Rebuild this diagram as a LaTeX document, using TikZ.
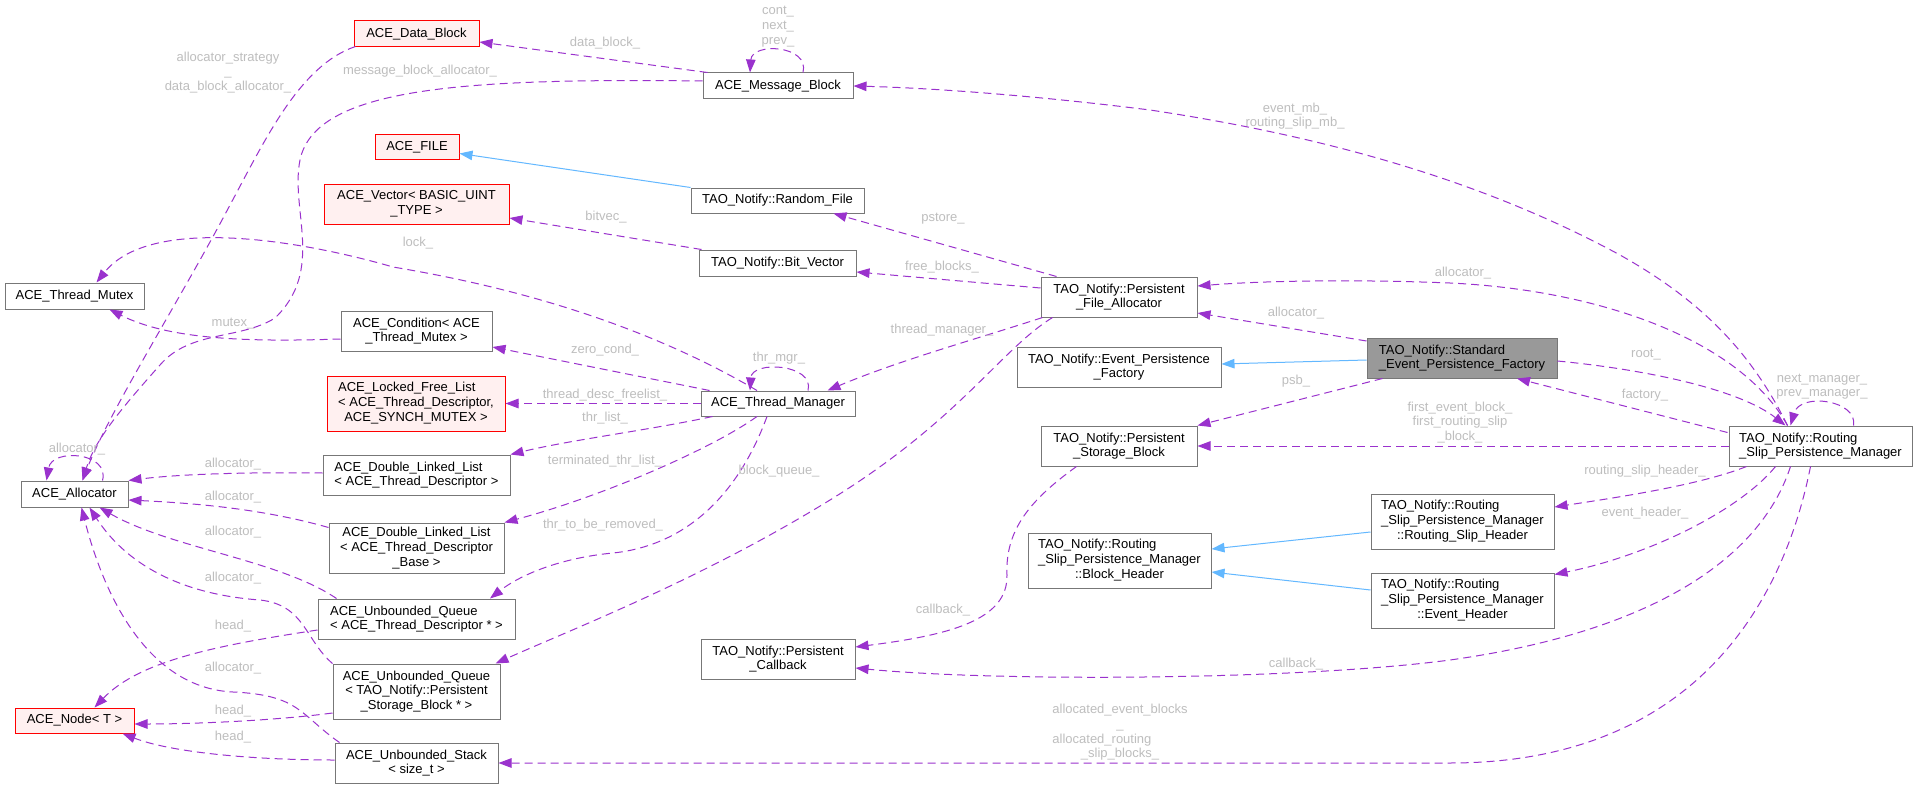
\documentclass[tikz,border=0pt]{standalone}
\usepackage{fontspec}
\setmainfont{Liberation Sans}
\usetikzlibrary{arrows.meta,calc}
\definecolor{epur}{HTML}{9A32CD}
\definecolor{iblue}{HTML}{63B8FF}
\definecolor{bgray}{HTML}{777777}
\definecolor{redfill}{HTML}{FFF0F0}
\definecolor{mainfill}{HTML}{999999}
\definecolor{lgray}{HTML}{BEBEBE}
\newcommand{\fl}[1]{\multicolumn{1}{@{}l@{}}{#1}}
\begin{document}
\begin{tikzpicture}[x=1pt,y=-1pt,
  every node/.style={font=\fontsize{13}{14.7}\selectfont, inner sep=0pt},
  cls/.style={draw=bgray, line width=1pt, fill=white, text=black, align=center},
  ext/.style={cls, draw=red, fill=redfill},
  mainc/.style={cls, fill=mainfill},
  uses/.style={draw=epur, line width=1pt, dash pattern=on 8pt off 5pt, -{Triangle[length=13pt,width=9.5pt]}},
  inh/.style={draw=iblue, line width=1pt, -{Triangle[length=13pt,width=9.5pt]}},
  lbl/.style={text=lgray, align=center},
]
\fill[white] (0,0) rectangle (1917,789);
\useasboundingbox (0,0) rectangle (1917,789);

% ---------- nodes ----------
\node[ext, minimum width=125pt, minimum height=26pt] (db) at (416.5,34) {ACE\_Data\_Block};
\node[cls, minimum width=150pt, minimum height=26pt] (mb) at (778,86) {ACE\_Message\_Block};
\node[ext, minimum width=84pt, minimum height=25pt] (af) at (417,147.5) {ACE\_FILE};
\node[ext, minimum width=185pt, minimum height=40pt] (av) at (416.5,204) {ACE\_Vector< BASIC\_UINT\\\_TYPE >};
\node[cls, minimum width=173pt, minimum height=25pt] (rf) at (777.5,200.5) {TAO\_Notify::Random\_File};
\node[cls, minimum width=157pt, minimum height=26pt] (bv) at (777.5,263) {TAO\_Notify::Bit\_Vector};
\node[cls, minimum width=139pt, minimum height=26pt] (tm2) at (74.5,296) {ACE\_Thread\_Mutex};
\node[cls, minimum width=151pt, minimum height=40pt] (cond) at (416.5,331) {ACE\_Condition< ACE\\\_Thread\_Mutex >};
\node[ext, minimum width=178pt, minimum height=55pt] (lf) at (416,403.5) {\begin{tabular}{@{}c@{}}\fl{ACE\_Locked\_Free\_List}\\\fl{< ACE\_Thread\_Descriptor,}\\ACE\_SYNCH\_MUTEX >\end{tabular}};
\node[cls, minimum width=154pt, minimum height=25pt] (tm) at (778,403.5) {ACE\_Thread\_Manager};
\node[cls, minimum width=107pt, minimum height=26pt] (al) at (74.5,494) {ACE\_Allocator};
\node[cls, minimum width=187pt, minimum height=40pt, align=left] (dll1) at (416.5,475) {ACE\_Double\_Linked\_List\\< ACE\_Thread\_Descriptor >};
\node[cls, minimum width=175pt, minimum height=50pt] (dllb) at (416.5,548) {ACE\_Double\_Linked\_List\\< ACE\_Thread\_Descriptor\\\_Base >};
\node[cls, minimum width=197pt, minimum height=40pt, align=left] (uq1) at (416.5,619) {ACE\_Unbounded\_Queue\\< ACE\_Thread\_Descriptor * >};
\node[cls, minimum width=167pt, minimum height=55pt] (uq2) at (416.5,691.5) {ACE\_Unbounded\_Queue\\< TAO\_Notify::Persistent\\\_Storage\_Block * >};
\node[ext, minimum width=119pt, minimum height=25pt] (nd) at (74.5,720.5) {ACE\_Node< T >};
\node[cls, minimum width=163pt, minimum height=40pt] (stack) at (416.5,763) {ACE\_Unbounded\_Stack\\< size\_t >};
\node[cls, minimum width=154pt, minimum height=40pt] (pc) at (778,659) {TAO\_Notify::Persistent\\\_Callback};
\node[cls, minimum width=156pt, minimum height=40pt] (pfa) at (1119,297) {TAO\_Notify::Persistent\\\_File\_Allocator};
\node[cls, minimum width=204pt, minimum height=40pt] (epf) at (1119,367) {TAO\_Notify::Event\_Persistence\\\_Factory};
\node[cls, minimum width=156pt, minimum height=40pt] (psb) at (1119,446) {TAO\_Notify::Persistent\\\_Storage\_Block};
\node[cls, minimum width=183pt, minimum height=55pt] (bh) at (1119.5,560.5) {\begin{tabular}{@{}c@{}}\fl{TAO\_Notify::Routing}\\\_Slip\_Persistence\_Manager\\::Block\_Header\end{tabular}};
\node[mainc, minimum width=190pt, minimum height=40pt, align=left] (sepf) at (1462,358) {TAO\_Notify::Standard\\\_Event\_Persistence\_Factory};
\node[cls, minimum width=183pt, minimum height=55pt] (rsh) at (1462.5,521.5) {\begin{tabular}{@{}c@{}}\fl{TAO\_Notify::Routing}\\\_Slip\_Persistence\_Manager\\::Routing\_Slip\_Header\end{tabular}};
\node[cls, minimum width=183pt, minimum height=55pt] (eh) at (1462.5,600.5) {\begin{tabular}{@{}c@{}}\fl{TAO\_Notify::Routing}\\\_Slip\_Persistence\_Manager\\::Event\_Header\end{tabular}};
\node[cls, minimum width=183pt, minimum height=40pt, align=left] (rspm) at (1820.5,446) {TAO\_Notify::Routing\\\_Slip\_Persistence\_Manager};

% ---------- inheritance ----------
\draw[inh] (rf.north west) -- ($(af.east)+(0,6)$);
\draw[inh] ($(sepf.west)+(0,2)$) -- ($(epf.east)+(0,-3)$);
\draw[inh] ($(rsh.west)+(0,10.5)$) -- ($(bh.east)+(0,-11.5)$);
\draw[inh] ($(eh.west)+(0,-10.5)$) -- ($(bh.east)+(0,11.5)$);

% ---------- usage ----------
\draw[uses] ($(mb.north west)+(5,0)$) -- ($(db.east)+(0,8)$);
\draw[uses] ($(mb.west)+(0,-5)$) .. controls (460,78) and (315,88) .. (300,160) .. controls (290,210) and (325,270) .. (275,318) .. controls (240,340) and (190,330) .. (160,365) .. controls (120,410) and (95,440) .. ($(al.north)+(8,0)$);
\draw[uses] ($(db.south west)+(2,-1)$) .. controls (300,65) and (265,140) .. (230,205) .. controls (180,300) and (110,410) .. ($(al.north)+(8,0)$);
\draw[uses] ($(mb.north)+(25,0)$) .. controls (810,45) and (752,42) .. ($(mb.north)+(-28,0)$);
\draw[uses] ($(tm.north)+(-21,0)$) .. controls (620,310) and (470,280) .. (393,267) .. controls (300,240) and (150,215) .. ($(tm2.north)+(22,0)$);
\draw[uses] ($(tm.north west)+(9,0)$) -- ($(cond.east)+(0,16)$);
\draw[uses] (tm.west) -- (lf.east);
\draw[uses] ($(tm.south west)+(12,0)$) .. controls (650,430) and (570,440) .. (dll1.north east);
\draw[uses] ($(tm.south)+(-21,0)$) .. controls (710,450) and (600,497) .. (dllb.north east);
\draw[uses] ($(tm.south)+(-11,0)$) .. controls (740,490) and (690,545) .. (613,553) .. controls (560,558) and (520,575) .. ($(uq1.north)+(73.5,0)$);
\draw[uses] ($(tm.north)+(30,0)$) .. controls (815,364) and (752,360) .. ($(tm.north)+(-28,0)$);
\draw[uses] ($(pfa.south west)+(12,0)$) .. controls (1000,350) and (960,420) .. (830,500) .. controls (700,580) and (570,630) .. ($(uq2.north east)+(-5,0)$);
\draw[uses] ($(pfa.north west)+(16,0)$) -- ($(rf.south east)+(-31,0)$);
\draw[uses] ($(pfa.west)+(0,-9)$) -- ($(bv.east)+(0,9)$);
\draw[uses] ($(pfa.south west)+(2,0)$) .. controls (980,338) and (900,360) .. ($(tm.north east)+(-28,0)$);
\draw[uses] ($(bv.north west)+(3,0)$) -- ($(av.east)+(0,14)$);
\draw[uses] ($(sepf.west)+(0,-17)$) -- ($(pfa.east)+(0,16)$);
\draw[uses] ($(sepf.south west)+(16,0)$) -- (psb.north east);
\draw[uses] ($(sepf.east)+(0,3)$) .. controls (1650,370) and (1740,390) .. ($(rspm.north)+(-35,0)$);
\draw[uses] ($(rspm.north west)+(-1,7)$) -- ($(sepf.south)+(55,0)$);
\draw[uses] (rspm.west) -- (psb.east);
\draw[uses] ($(rspm.north)+(-33,0)$) .. controls (1740,340) and (1600,290) .. (1450,283) .. controls (1350,279) and (1260,281) .. ($(pfa.east)+(0,-11)$);
\draw[uses] ($(rspm.north)+(-33,0)$) .. controls (1750,350) and (1700,300) .. (1620,255) .. controls (1500,190) and (1350,140) .. (1150,110) .. controls (1030,95) and (930,88) .. (mb.east);
\draw[uses] ($(rspm.north)+(33,0)$) .. controls (1858,400) and (1800,392) .. ($(rspm.north)+(-30,0)$);
\draw[uses] ($(rspm.south west)+(18,0)$) .. controls (1700,485) and (1620,497) .. ($(rsh.east)+(0,-14.5)$);
\draw[uses] ($(rspm.south)+(-45,0)$) .. controls (1740,510) and (1650,555) .. ($(eh.north east)+(0,2)$);
\draw[uses] ($(rspm.south)+(-30,0)$) .. controls (1760,560) and (1650,632) .. (1450,660) .. controls (1300,680) and (1000,682) .. ($(pc.east)+(0,9)$);
\draw[uses] ($(rspm.south)+(-10,0)$) .. controls (1780,620) and (1680,763) .. (1450,763) -- (stack.east);
\draw[uses] ($(psb.south west)+(36,0)$) .. controls (1030,500) and (1005,530) .. (1007,575) .. controls (1008,620) and (950,635) .. ($(pc.east)+(0,-12)$);
\draw[uses] ($(al.north)+(28,0)$) .. controls (110,452) and (52,448) .. ($(al.north)+(-28,0)$);
\draw[uses] ($(dll1.west)+(0,-2)$) .. controls (250,472) and (180,474) .. (al.north east);
\draw[uses] ($(dllb.north west)+(0,5)$) .. controls (260,508) and (190,503) .. ($(al.east)+(0,6)$);
\draw[uses] ($(uq1.north west)+(19,0)$) .. controls (280,560) and (170,548) .. ($(al.south)+(25,0)$);
\draw[uses] (uq2.north west) .. controls (305,640) and (305,605) .. (260,600) .. controls (190,595) and (130,570) .. ($(al.south)+(15,0)$);
\draw[uses] ($(stack.north west)+(5,0)$) .. controls (300,715) and (300,695) .. (233,692) .. controls (150,688) and (105,600) .. ($(al.south)+(7,0)$);
\draw[uses] ($(uq1.west)+(0,11)$) .. controls (220,645) and (140,660) .. ($(nd.north)+(20,0)$);
\draw[uses] ($(uq2.west)+(0,21.5)$) .. controls (280,720) and (200,724) .. ($(nd.east)+(0,3.5)$);
\draw[uses] ($(stack.west)+(0,-3)$) .. controls (250,760) and (170,752) .. ($(nd.south east)+(-12,0)$);
\draw[uses] ($(cond.west)+(0,8)$) .. controls (250,342) and (170,340) .. ($(tm2.south)+(35,0)$);

% ---------- labels ----------
\node[lbl] (l1) at (605,43) {data\_block\_};
\node[lbl] (l2) at (420,71) {message\_block\_allocator\_};
\node[lbl] (l3) at (228,72.5) {allocator\_strategy\\\_\\data\_block\_allocator\_};
\node[lbl] (l4) at (778,26.5) {cont\_\\next\_\\prev\_};
\node[lbl] (l5) at (1295,116) {event\_mb\_\\routing\_slip\_mb\_};
\node[lbl] (l6) at (943,219) {pstore\_};
\node[lbl] (l7) at (606,217) {bitvec\_};
\node[lbl] (l8) at (418,243) {lock\_};
\node[lbl] (l9) at (942,267) {free\_blocks\_};
\node[lbl] (l10) at (1463,273) {allocator\_};
\node[lbl] (l11) at (233,324) {mutex\_};
\node[lbl] (l12) at (942,330) {thread\_manager\_};
\node[lbl] (l13) at (605,350) {zero\_cond\_};
\node[lbl] (l14) at (779,358) {thr\_mgr\_};
\node[lbl] (l15) at (1296,313) {allocator\_};
\node[lbl] (l16) at (1646,355) {root\_};
\node[lbl] (l17) at (1296,381) {psb\_};
\node[lbl] (l18) at (1822,386.5) {next\_manager\_\\prev\_manager\_};
\node[lbl] (l19) at (1645,395) {factory\_};
\node[lbl] (l20) at (605,395) {thread\_desc\_freelist\_};
\node[lbl] (l21) at (1460,422.5) {first\_event\_block\_\\first\_routing\_slip\\\_block\_};
\node[lbl] (l22) at (605,418) {thr\_list\_};
\node[lbl] (l23) at (77,449) {allocator\_};
\node[lbl] (l24) at (233,464) {allocator\_};
\node[lbl] (l25) at (605,461) {terminated\_thr\_list\_};
\node[lbl] (l26) at (779,471) {block\_queue\_};
\node[lbl] (l27) at (1645,471) {routing\_slip\_header\_};
\node[lbl] (l28) at (233,497) {allocator\_};
\node[lbl] (l29) at (1645,513) {event\_header\_};
\node[lbl] (l30) at (603,525) {thr\_to\_be\_removed\_};
\node[lbl] (l31) at (233,532) {allocator\_};
\node[lbl] (l32) at (233,578) {allocator\_};
\node[lbl] (l33) at (943,610) {callback\_};
\node[lbl] (l34) at (233,626) {head\_};
\node[lbl] (l35) at (1296,664) {callback\_};
\node[lbl] (l36) at (233,668) {allocator\_};
\node[lbl] (l37) at (233,711) {head\_};
\node[lbl] (l38) at (1120,733) {\begin{tabular}{@{}c@{}}allocated\_event\_blocks\\\_\\\fl{allocated\_routing}\\\_slip\_blocks\_\end{tabular}};
\node[lbl] (l39) at (233,737) {head\_};
\end{tikzpicture}
\end{document}
